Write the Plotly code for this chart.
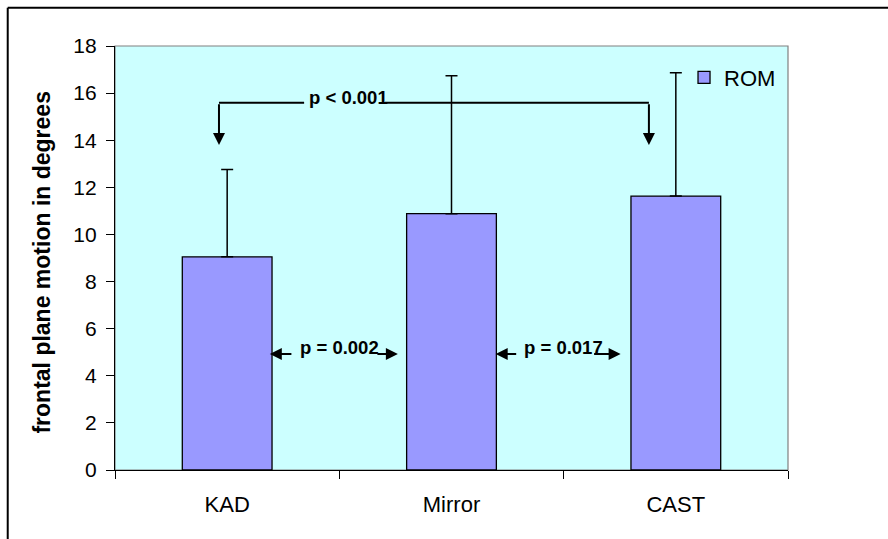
import plotly.graph_objects as go

# Range of motion per condition (degrees) with upward SD bars
conditions = ["KAD", "Mirror", "CAST"]
rom_mean = [9.05, 10.88, 11.63]
rom_sd = [3.71, 5.86, 5.23]
no_minus = [0, 0, 0]

series_name = "ROM"
y_title = "frontal plane motion in degrees"
p_overall = "p < 0.001"
p_pairs = ["p = 0.002", "p = 0.017"]

FONT = "Liberation Sans, Arial, sans-serif"
BAR_COLOR = "#9999FF"
PLOT_BG = "#CCFFFF"

fig = go.Figure()
fig.add_trace(go.Bar(
    x=conditions,
    y=rom_mean,
    name=series_name,
    width=0.4,
    marker=dict(color=BAR_COLOR, line=dict(color="black", width=1.3)),
    error_y=dict(type="data", symmetric=False, array=rom_sd, arrayminus=no_minus,
                 color="black", thickness=1.5, width=6),
    showlegend=True,
))

shapes = []
annotations = []

# outer chart frame: only its left and top edges fall inside the page
frame_x = -0.1594
frame_y = 1.0903
shapes.append(dict(type="line", xref="paper", yref="paper",
                   x0=frame_x, x1=frame_x, y0=frame_y, y1=-0.5,
                   line=dict(color="black", width=2)))
shapes.append(dict(type="line", xref="paper", yref="paper",
                   x0=frame_x, x1=1.5, y0=frame_y, y1=frame_y,
                   line=dict(color="black", width=2)))
# plot-area border
shapes.append(dict(type="rect", xref="paper", yref="paper", x0=0, x1=1, y0=0, y1=1,
                   line=dict(color="#808080", width=1.2), layer="below"))

# overall comparison bracket: KAD vs CAST
br_y = 15.59
br_tip = 13.8
br_left, br_right = -0.0365, 1.880
gap_l, gap_r = 0.343, 0.703
shapes.append(dict(type="line", xref="x", yref="y", x0=br_left, x1=gap_l, y0=br_y, y1=br_y,
                   line=dict(color="black", width=2)))
shapes.append(dict(type="line", xref="x", yref="y", x0=gap_r, x1=br_right, y0=br_y, y1=br_y,
                   line=dict(color="black", width=2)))
for bx in (br_left, br_right):
    annotations.append(dict(x=bx, y=br_tip, ax=bx, ay=br_y, xref="x", yref="y",
                            axref="x", ayref="y", text="", showarrow=True,
                            arrowhead=2, arrowsize=1.2, arrowwidth=2, arrowcolor="black",
                            standoff=0, startstandoff=0))
annotations.append(dict(x=0.5426, y=15.83, xref="x", yref="y", text=p_overall,
                        showarrow=False, xanchor="center", yanchor="middle",
                        font=dict(family=FONT, size=18.5, color="black", weight="bold")))

# pairwise comparisons between neighbouring bars
arrow_y = 4.92
pair_arrows = [
    [(0.293, 0.19), (0.663, 0.761)],
    [(1.295, 1.197), (1.629, 1.754)],
]
for k, label in enumerate(p_pairs):
    for tail, tip in pair_arrows[k]:
        annotations.append(dict(x=tip, y=arrow_y, ax=tail, ay=arrow_y, xref="x", yref="y",
                                axref="x", ayref="y", text="", showarrow=True,
                                arrowhead=2, arrowsize=1.2, arrowwidth=2, arrowcolor="black",
                                standoff=0, startstandoff=0))
    annotations.append(dict(x=k + 0.5, y=5.2, xref="x", yref="y", text=label,
                            showarrow=False, xanchor="center", yanchor="middle",
                            font=dict(family=FONT, size=18.5, color="black", weight="bold")))

# y-axis title
annotations.append(dict(x=-0.108, y=0.49, xref="paper", yref="paper", text=y_title,
                        textangle=-90, showarrow=False, xanchor="center", yanchor="middle",
                        font=dict(family=FONT, size=23, color="black", weight="bold")))

fig.update_layout(
    width=888, height=539,
    margin=dict(l=115, r=100, t=46, b=69, pad=0),
    paper_bgcolor="white",
    plot_bgcolor=PLOT_BG,
    font=dict(family=FONT, color="black"),
    shapes=shapes,
    annotations=annotations,
    bargap=0.6,
    legend=dict(x=0.8455, y=0.975, xanchor="left", yanchor="top",
                bgcolor="rgba(0,0,0,0)", borderwidth=0,
                font=dict(family=FONT, size=22, color="black")),
    xaxis=dict(type="category", showline=True, linecolor="black", linewidth=1.2,
               ticks="outside", ticklen=8, tickcolor="black", tickwidth=1.2,
               tickson="boundaries", showgrid=False, zeroline=False,
               ticklabelstandoff=14,
               tickfont=dict(family=FONT, size=22, color="black"),
               range=[-0.5, 2.5]),
    yaxis=dict(range=[0, 18], dtick=2, showline=True, linecolor="black", linewidth=1.2,
               ticks="outside", ticklen=8, tickcolor="black", tickwidth=1.2,
               showgrid=False, zeroline=False, ticklabelstandoff=5,
               tickfont=dict(family=FONT, size=21, color="black")),
)

fig.write_html("out.html")
